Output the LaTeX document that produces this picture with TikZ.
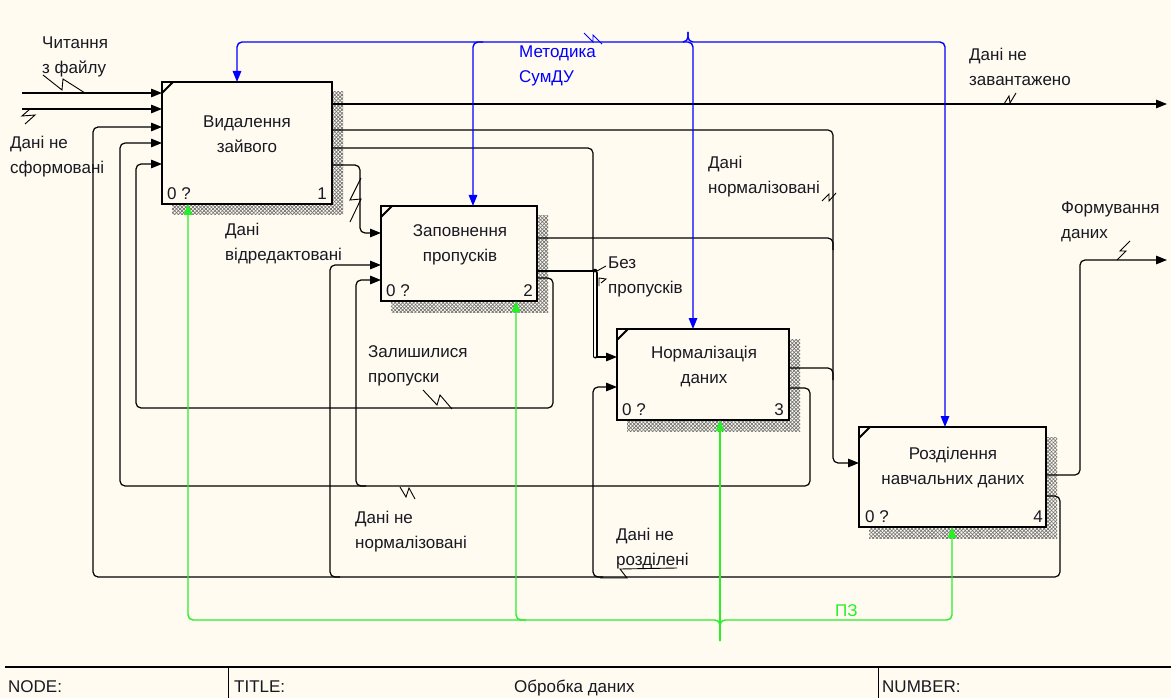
\documentclass[tikz,border=0pt]{standalone}
\usepackage{fontspec}
\setmainfont{Liberation Sans}
\usetikzlibrary{arrows.meta,patterns.meta,calc}
\pgfdeclarelayer{paperlayer}
\pgfdeclarelayer{shadelayer}
\pgfsetlayers{paperlayer,shadelayer,main}
\definecolor{paper}{RGB}{255,251,240}
\definecolor{ctl}{RGB}{0,0,255}
\definecolor{mech}{RGB}{40,240,40}
\definecolor{ink}{RGB}{25,25,35}

\begin{document}
\begin{tikzpicture}[x=1pt,y=-1pt,
  txt/.style={inner sep=0pt, text=ink, font=\fontsize{17}{25}\selectfont},
  lbl/.style={txt, anchor=north west, align=left},
  ttl/.style={txt, anchor=north, align=center},
  func/.style={draw, line width=2.8pt, fill=paper, inner sep=0pt, outer sep=0pt},
  flow/.style={line width=1.2pt, rounded corners=5pt},
  arrowend/.style={-{Triangle[length=11pt,width=8.5pt]}},
  ctrl/.style={flow, draw=ctl, line width=1.4pt},
  mechl/.style={flow, draw=mech, line width=1.4pt},
  squig/.style={line width=0.9pt, sharp corners},
  shade/.style={pattern={Lines[angle=45,distance=2.6pt,line width=0.7pt]}, pattern color=black!55},
  shadeb/.style={pattern={Lines[angle=-45,distance=2.6pt,line width=0.7pt]}, pattern color=black!55},
]
\begin{pgfonlayer}{paperlayer}
  \fill[paper] (0,0) rectangle (1171,698);
\end{pgfonlayer}
\useasboundingbox (0,0) rectangle (1171,698);

% activity boxes
\node[func, minimum width=170pt, minimum height=122pt] (b1) at (247,143) {};
\node[func, minimum width=156pt, minimum height=95pt] (b2) at (459,253.5) {};
\node[func, minimum width=172pt, minimum height=91pt] (b3) at (703,374.5) {};
\node[func, minimum width=187pt, minimum height=100pt] (b4) at (952.5,477) {};

% hatched drop shadows
\begin{pgfonlayer}{shadelayer}
  \foreach \b in {b1,b2,b3,b4}{
    \fill[shade] ($(\b.north west)+(10,10)$) rectangle ($(\b.south east)+(11,11)$);
    \fill[shadeb] ($(\b.north west)+(10,10)$) rectangle ($(\b.south east)+(11,11)$);
  }
\end{pgfonlayer}

% corner marks
\foreach \b in {b1,b2,b3,b4}{
  \draw[line width=2pt] ($(\b.north west)+(0,11)$) -- ($(\b.north west)+(11,0)$);
}

% box titles and numbers
\node[ttl] (t1) at (247,109.5) {\strut Видалення\\зайвого};
\node[ttl] (t2) at (460,218.5) {\strut Заповнення\\пропусків};
\node[ttl] (t3) at (704,340.5) {\strut Нормалізація\\даних};
\node[ttl] (t4) at (953,441.5) {\strut Розділення\\навчальних даних};
\node[txt, anchor=base west] (n1a) at ($(b1.south west)+(5,-4.5)$) {0 ?};
\node[txt, anchor=base east] (n1b) at ($(b1.south east)+(-5,-4.5)$) {1};
\node[txt, anchor=base west] (n2a) at ($(b2.south west)+(5,-4.5)$) {0 ?};
\node[txt, anchor=base east] (n2b) at ($(b2.south east)+(-4,-4.5)$) {2};
\node[txt, anchor=base west] (n3a) at ($(b3.south west)+(5,-5)$) {0 ?};
\node[txt, anchor=base east] (n3b) at ($(b3.south east)+(-5,-5)$) {3};
\node[txt, anchor=base west] (n4a) at ($(b4.south west)+(6,-5)$) {0 ?};
\node[txt, anchor=base east] (n4b) at ($(b4.south east)+(-3,-5)$) {4};

% external inputs
\coordinate (in1) at (22,93);
\coordinate (in2) at (22,109);
\draw[flow, arrowend] (in1) -- (b1.west |- 0,93);
\draw[flow, arrowend] (in2) -- (b1.west |- 0,109);

% external outputs
\coordinate (out1) at (1167,104);
\coordinate (out2) at (1167,260);
\draw[flow, arrowend] (b1.east |- 0,104) -- (out1);
\draw[flow, arrowend] (b4.east |- 0,475) -- (1080,475) -- (1080,260) -- (out2);

% box 1 -> box 2
\draw[flow, arrowend] (b1.east |- 0,165) -- (360,165) -- (360,233) -- (b2.west |- 0,233);

% merged flows into box 4
\draw[flow, arrowend] (b1.east |- 0,130) -- (833,130) -- (833,463) -- (b4.west |- 0,463);
\draw[flow] (b2.east |- 0,238) -- (833,238) -- (833,250);
\draw[flow] (b3.east |- 0,368) -- (833,368) -- (833,380);

% merged flows into box 3 (without gaps)
\draw[flow] (b1.east |- 0,148) -- (593,148) -- (593,271);
\draw[flow] (b2.east |- 0,271) -- (595,271);
\fill (595,271) circle (2.3pt);
\draw[line width=1.3pt, double=paper, double distance=2.4pt, line cap=round] (595,273) -- (595,356);
\draw[flow, arrowend] (596,357) -- (b3.west |- 0,357);

% feedback: gaps remain
\draw[flow, arrowend] (b2.east |- 0,278) -- (553,278) -- (553,408) -- (136,408) -- (136,164) -- (b1.west |- 0,164);

% feedback: data not normalised
\draw[flow, arrowend] (b3.east |- 0,388) -- (810,388) -- (810,486) -- (120,486) -- (120,143) -- (b1.west |- 0,143);
\draw[flow, arrowend] (366,486) -- (356,486) -- (356,280) -- (b2.west |- 0,280);

% feedback: data not split
\draw[flow, arrowend] (b4.east |- 0,496) -- (1060,496) -- (1060,577) -- (93,577) -- (93,127) -- (b1.west |- 0,127);
\draw[flow, arrowend] (340,577) -- (330,577) -- (330,265) -- (b2.west |- 0,265);
\draw[flow, arrowend] (603,577) -- (593,577) -- (593,387) -- (b3.west |- 0,387);

% control: methodology
\coordinate (csrc) at (688,32);
\draw[ctrl, arrowend] (csrc) -- (688,42) -- (237,42) -- (b1.north -| 237,0);
\draw[ctrl, arrowend] (csrc) -- (688,42) -- (945,42) -- (b4.north -| 945,0);
\draw[ctrl, arrowend] (483,42) -- (473,42) -- (b2.north -| 473,0);
\draw[ctrl, arrowend] (683,42) -- (693,42) -- (b3.north -| 693,0);

% mechanism: software
\coordinate (msrc) at (720,641);
\draw[mechl, arrowend] (msrc) -- (720,620) -- (188,620) -- (b1.south -| 188,0);
\draw[mechl, arrowend] (msrc) -- (720,620) -- (952,620) -- (b4.south -| 952,0);
\draw[mechl, arrowend] (526,620) -- (516,620) -- (b2.south -| 516,0);
\draw[mechl, arrowend] (msrc) -- (b3.south -| 720,0);

% arrow labels
\node[lbl] (l1) at (42,30.5) {\strut Читання\\з файлу};
\node[lbl] (l2) at (10,130.5) {\strut Дані не\\сформовані};
\node[lbl] (l3) at (225,217.5) {\strut Дані\\відредактовані};
\node[lbl, text=ctl] (l4) at (519,39.5) {\strut Методика\\СумДУ};
\node[lbl] (l5) at (969,42.5) {\strut Дані не\\завантажено};
\node[lbl] (l6) at (708,150.5) {\strut Дані\\нормалізовані};
\node[lbl] (l7) at (1061,195.5) {\strut Формування\\даних};
\node[lbl] (l8) at (608,250.5) {\strut Без\\пропусків};
\node[lbl] (l9) at (368,339.5) {\strut Залишилися\\пропуски};
\node[lbl] (l10) at (355,505.5) {\strut Дані не\\нормалізовані};
\node[lbl] (l11) at (616,522.5) {\strut Дані не\\розділені};
\node[txt, anchor=base west, text=mech] (l12) at (835,616) {ПЗ};

% squiggles tying labels to their arrows
\draw[squig] (43,75) -- (62,90) -- (63,79) -- (85,93);
\draw[squig] (30,109) -- (22,116) -- (35,115) -- (25,124);
\draw[squig] (361,178) -- (350,200) -- (361,199) -- (350,222);
\draw[squig, draw=ctl] (584,33) -- (593,42) -- (593,35) -- (602,44);
\draw[squig] (1004,104) -- (1009,96) -- (1010,103) -- (1016,93);
\draw[squig] (822,201) -- (829,194) -- (829,201) -- (836,193);
\draw[squig] (1117,260) -- (1126,251) -- (1120,251) -- (1130,241);
\draw[squig] (597,271) -- (606,266);
\draw[squig] (599,286) -- (599,278) -- (606,279) -- (601,283);
\draw[squig] (423,390) -- (437,405) -- (440,395) -- (452,409);
\draw[squig] (400,487) -- (406,497) -- (409,488) -- (415,499);
\draw[squig] (600,578) -- (627,578) -- (620,569) -- (677,568);

% title block
\draw[line width=2pt] (5,667) -- (1171,667);
\draw[line width=1pt] (228,668) -- (228,698);
\draw[line width=1pt] (878,668) -- (878,698);
\node[txt, anchor=base west] (f1) at (8,692) {NODE:};
\node[txt, anchor=base west] (f2) at (234,692) {TITLE:};
\node[txt, anchor=base west] (f3) at (514,692) {Обробка даних};
\node[txt, anchor=base west] (f4) at (882,692) {NUMBER:};
\end{tikzpicture}
\end{document}
